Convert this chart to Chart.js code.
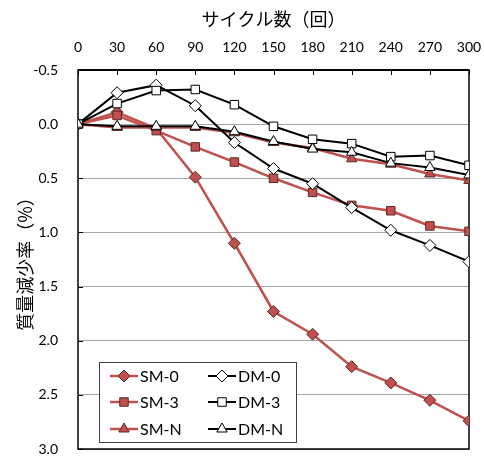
<!DOCTYPE html>
<html>
<head>
<meta charset="utf-8">
<script src="https://cdn.jsdelivr.net/npm/chart.js@4"></script>
<style>
  body { margin: 0; background: #fff; }
  #wrap { width: 484px; height: 459px; }
</style>
</head>
<body>
<div id="wrap"><canvas id="mygraph" width="484" height="459"></canvas></div>
<script>
const cycles = [0, 30, 60, 90, 120, 150, 180, 210, 240, 270, 300];
const sm0 = [0, -0.11, 0.04, 0.49, 1.10, 1.73, 1.94, 2.24, 2.39, 2.55, 2.74];
const dm0 = [0, -0.29, -0.36, -0.17, 0.17, 0.41, 0.55, 0.77, 0.98, 1.12, 1.27];
const sm3 = [0, -0.08, 0.06, 0.21, 0.35, 0.50, 0.63, 0.75, 0.80, 0.94, 0.99];
const dm3 = [0, -0.19, -0.31, -0.32, -0.18, 0.02, 0.14, 0.18, 0.30, 0.29, 0.38];
const smN = [0, 0.03, 0.03, 0.03, 0.08, 0.17, 0.22, 0.32, 0.37, 0.46, 0.52];
const dmN = [0, 0.02, 0.02, 0.02, 0.07, 0.16, 0.23, 0.26, 0.36, 0.40, 0.47];

const RED = "#C0504D";
const latin = "Lato, 'Noto Sans CJK JP', sans-serif";
const cjk = "'Noto Sans CJK JP', sans-serif";

function pts(arr) {
  return arr.map((v, i) => ({ x: cycles[i], y: v }));
}

function series(label, data, red, shape, order) {
  return {
    label: label,
    data: pts(data),
    borderColor: red ? RED : "#000",
    borderWidth: red ? 2.5 : 2,
    pointStyle: shape,
    pointRadius: 6,
    pointBackgroundColor: red ? RED : "#fff",
    pointBorderColor: red ? "#5a2a28" : "#000",
    pointBorderWidth: 1,
    fill: false,
    order: order
  };
}

// legend boxed inside the plot, two columns
const boxLegend = {
  id: "boxLegend",
  afterDraw(chart) {
    const ctx = chart.ctx;
    ctx.save();
    ctx.fillStyle = "#fff";
    ctx.strokeStyle = "#404040";
    ctx.lineWidth = 1;
    ctx.fillRect(99, 362, 197, 80);
    ctx.strokeRect(99.5, 362.5, 197, 80);
    const rows = [376, 402, 429];
    const cols = [110, 208];
    chart.data.datasets.forEach((ds, i) => {
      const cx = cols[i % 2];
      const cy = rows[Math.floor(i / 2)];
      ctx.strokeStyle = ds.borderColor;
      ctx.lineWidth = ds.borderWidth;
      ctx.beginPath();
      ctx.moveTo(cx, cy);
      ctx.lineTo(cx + 28, cy);
      ctx.stroke();
      ctx.fillStyle = ds.pointBackgroundColor;
      ctx.strokeStyle = ds.pointBorderColor;
      ctx.lineWidth = 1;
      Chart.helpers.drawPoint(ctx, { pointStyle: ds.pointStyle, radius: 6, borderWidth: 1 }, cx + 14, cy);
      ctx.fillStyle = "#000";
      ctx.font = "16px " + latin;
      ctx.textBaseline = "middle";
      ctx.fillText(ds.label, cx + 30, cy + 1);
    });
    ctx.restore();
  }
};

// short tick marks on the inside of the top and left axes, plus frame
const frame = {
  id: "frame",
  beforeDatasetsDraw(chart) {
    const a = chart.chartArea;
    const x = chart.scales.x, y = chart.scales.y;
    const ctx = chart.ctx;
    ctx.save();
    ctx.strokeStyle = "#000";
    ctx.lineWidth = 1;
    cycles.forEach(c => {
      const px = Math.round(x.getPixelForValue(c)) + 0.5;
      ctx.beginPath();
      ctx.moveTo(px, a.top);
      ctx.lineTo(px, a.top + 5);
      ctx.stroke();
    });
    y.ticks.forEach(t => {
      const py = Math.round(y.getPixelForValue(t.value)) + 0.5;
      ctx.beginPath();
      ctx.moveTo(a.left, py);
      ctx.lineTo(a.left + 5, py);
      ctx.stroke();
    });
    ctx.lineWidth = 1.5;
    ctx.strokeRect(a.left, a.top, a.right - a.left, a.bottom - a.top);
    ctx.lineWidth = 2;
    ctx.beginPath();
    ctx.moveTo(a.left, a.top);
    ctx.lineTo(a.right, a.top);
    ctx.stroke();
    ctx.restore();
  }
};

const ctx = document.getElementById("mygraph");
new Chart(ctx, {
  type: "line",
  data: {
    datasets: [
      series("SM-0", sm0, true, "rectRot", 6),
      series("DM-0", dm0, false, "rectRot", 3),
      series("SM-3", sm3, true, "rect", 5),
      series("DM-3", dm3, false, "rect", 2),
      series("SM-N", smN, true, "triangle", 4),
      series("DM-N", dmN, false, "triangle", 1)
    ]
  },
  options: {
    responsive: false,
    animation: false,
    layout: { padding: { left: 0, top: 0, right: 15, bottom: 10 } },
    plugins: { legend: { display: false }, tooltip: { enabled: false } },
    scales: {
      x: {
        type: "linear",
        position: "top",
        min: 0,
        max: 300,
        afterBuildTicks: s => { s.ticks = cycles.map(v => ({ value: v })); },
        afterFit: s => { s.height = 70; s.paddingLeft = 0; s.paddingRight = 0; },
        grid: { display: false },
        border: { display: false },
        ticks: { color: "#000", font: { family: latin, size: 14 }, padding: 6, maxRotation: 0 },
        title: {
          display: true,
          text: "サイクル数（回）",
          color: "#000",
          font: { family: cjk, size: 18 },
          padding: { top: 8, bottom: 2 }
        }
      },
      y: {
        reverse: true,
        min: -0.5,
        max: 3.0,
        afterFit: s => { s.width = 78; s.paddingTop = 0; s.paddingBottom = 0; },
        grid: { color: "#a6a6a6", lineWidth: 1, drawTicks: false },
        border: { display: false },
        ticks: {
          stepSize: 0.5,
          color: "#000",
          font: { family: latin, size: 14 },
          padding: 20,
          callback: v => v.toFixed(1)
        },
        title: {
          display: true,
          text: "質量減少率（%）",
          color: "#000",
          font: { family: cjk, size: 18 },
          padding: { top: 14, bottom: 4 }
        }
      }
    }
  },
  plugins: [frame, boxLegend]
});
</script>
</body>
</html>
